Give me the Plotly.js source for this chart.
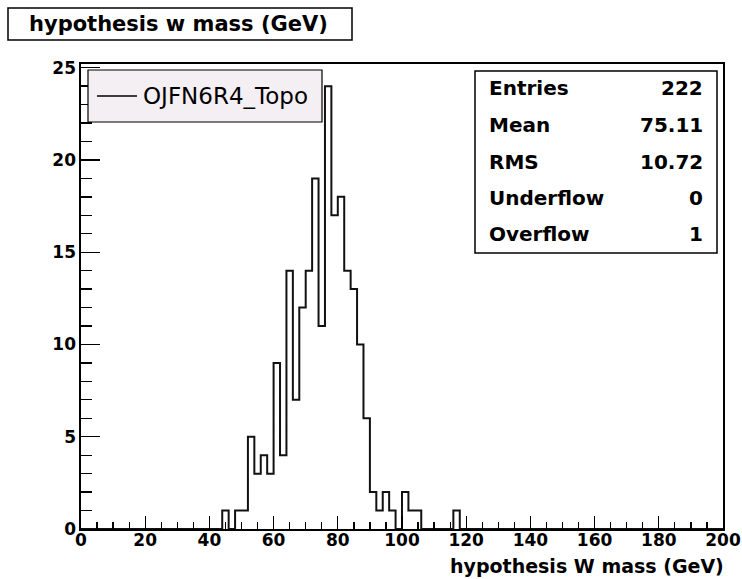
<!DOCTYPE html>
<html>
<head>
<meta charset="utf-8">
<script src="https://cdn.plot.ly/plotly-3.0.1.min.js"></script>
<style>html,body{margin:0;padding:0;background:#fff;}#chart{width:742px;height:579px;}</style>
</head>
<body>
<div id="chart"></div>
<script>
// ---- data ----
const binLow = 0;
const binWidth = 2;
const counts = [
  0,0,0,0,0,0,0,0,0,0,      // 0-20
  0,0,0,0,0,0,0,0,0,0,      // 20-40
  0,0,1,0,1,1,5,3,4,3,      // 40-60
  9,4,14,7,12,14,19,11,24,17, // 60-80
  18,14,13,10,6,2,1,2,1,0,  // 80-100
  2,1,1,0,0,0,0,0,1,0,      // 100-120
  0,0,0,0,0,0,0,0,0,0,      // 120-140
  0,0,0,0,0,0,0,0,0,0,      // 140-160
  0,0,0,0,0,0,0,0,0,0,      // 160-180
  0,0,0,0,0,0,0,0,0,0       // 180-200
];
const histName = "OJFN6R4_Topo";
const chartTitle = "hypothesis w mass (GeV)";
const xTitle = "hypothesis W mass (GeV)";
const statLabels = ["Entries", "Mean", "RMS", "Underflow", "Overflow"];
const statValues = ["222", "75.11", "10.72", "0", "1"];

// ---- build step outline from bins ----
const xs = [], ys = [];
for (let i = 0; i < counts.length; i++) { xs.push(binLow + i * binWidth); ys.push(counts[i]); }
xs.push(binLow + counts.length * binWidth); ys.push(counts[counts.length - 1]);

// ---- layout helpers (pixel -> paper) ----
const W = 742, H = 579, ML = 81, MR = 19, MT = 64, MB = 50;
const PW = W - ML - MR, PH = H - MT - MB;
const px = v => (v - ML) / PW;
const py = v => (H - MB - v) / PH;

const FONT = "DejaVu Sans";
const shapes = [
  // title box
  {type:'rect', xref:'paper', yref:'paper', x0:px(8), x1:px(352), y0:py(40), y1:py(8), line:{color:'#000', width:1.5}, fillcolor:'#fff', layer:'above'},
  // legend box
  {type:'rect', xref:'paper', yref:'paper', x0:px(88), x1:px(322), y0:py(122), y1:py(70), line:{color:'#000', width:1.2}, fillcolor:'#f4eff3', layer:'above'},
  {type:'line', xref:'paper', yref:'paper', x0:px(97), x1:px(137), y0:py(96), y1:py(96), line:{color:'#000', width:1.5}, layer:'above'},
  // stats box
  {type:'rect', xref:'paper', yref:'paper', x0:px(475), x1:px(717), y0:py(253), y1:py(71), line:{color:'#000', width:1.5}, fillcolor:'#fff', layer:'above'}
];

const annotations = [
  {text: chartTitle, xref:'paper', yref:'paper', x:px(178), y:py(24), xanchor:'center', yanchor:'middle', showarrow:false, font:{family:FONT, size:21, weight:'bold', color:'#000'}},
  {text: histName, xref:'paper', yref:'paper', x:px(141), y:py(96), xanchor:'left', yanchor:'middle', showarrow:false, font:{family:FONT, size:23, color:'#000'}},
  {text: xTitle, xref:'paper', yref:'paper', x:px(726), y:py(566), xanchor:'right', yanchor:'middle', showarrow:false, font:{family:FONT, size:19, weight:'bold', color:'#000'}}
];
const rowY = [88, 125, 162, 198, 234];
statLabels.forEach((lab, i) => {
  annotations.push({text: lab, xref:'paper', yref:'paper', x:px(487), y:py(rowY[i]), xanchor:'left', yanchor:'middle', showarrow:false, font:{family:FONT, size:20, weight:'bold', color:'#000'}});
  annotations.push({text: statValues[i], xref:'paper', yref:'paper', x:px(705), y:py(rowY[i]), xanchor:'right', yanchor:'middle', showarrow:false, font:{family:FONT, size:20, weight:'bold', color:'#000'}});
});

const trace = {
  type:'scatter', mode:'lines', x: xs, y: ys, name: histName,
  line:{shape:'hv', color:'#111', width:2}, hoverinfo:'none', showlegend:false, cliponaxis:false
};

const layout = {
  width: W, height: H,
  margin: {l:ML, r:MR, t:MT, b:MB, pad:0},
  paper_bgcolor:'#fff', plot_bgcolor:'#fff',
  showlegend:false,
  xaxis: {
    range:[0, 200], dtick:20, tick0:0, ticks:'inside', ticklen:13, tickwidth:1.3, tickcolor:'#000',
    minor:{dtick:5, ticks:'inside', ticklen:7, tickwidth:1.3, tickcolor:'#000'},
    showgrid:false, zeroline:false, showline:true, linecolor:'#000', linewidth:1.6, mirror:true,
    tickfont:{family:FONT, size:17, weight:'bold', color:'#000'}, ticklabelstandoff:-5,
    title:{text:''}
  },
  yaxis: {
    range:[0, 25.2], dtick:5, tick0:0, ticks:'inside', ticklen:19, tickwidth:1.3, tickcolor:'#000',
    minor:{dtick:1, ticks:'inside', ticklen:11, tickwidth:1.3, tickcolor:'#000'},
    showgrid:false, zeroline:false, showline:true, linecolor:'#000', linewidth:1.6, mirror:true,
    tickfont:{family:FONT, size:17, weight:'bold', color:'#000'}, ticklabelstandoff:0,
    title:{text:''}
  },
  shapes: shapes,
  annotations: annotations
};

Plotly.newPlot('chart', [trace], layout, {displayModeBar:false, staticPlot:true});
</script>
</body>
</html>
